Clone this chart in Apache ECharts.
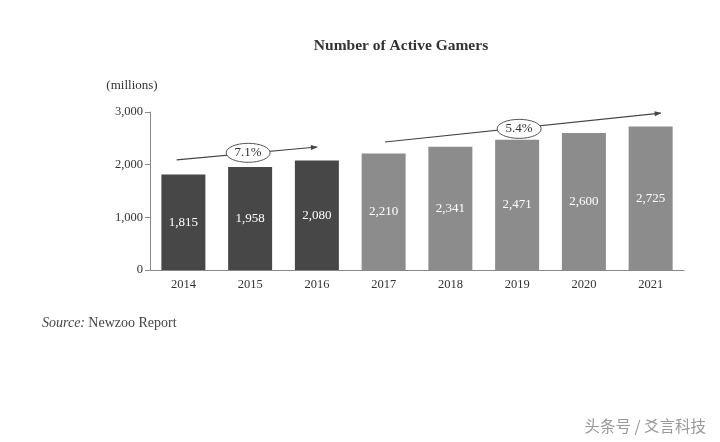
<!DOCTYPE html>
<html><head><meta charset="utf-8">
<script src="https://cdn.jsdelivr.net/npm/echarts@6/dist/echarts.min.js"></script>
<style>html,body{margin:0;padding:0;background:#fff}#c{width:720px;height:442px}</style>
</head><body><div id="c"></div>
<script>
var years = ['2014','2015','2016','2017','2018','2019','2020','2021'];
var gamers = [1815, 1958, 2080, 2210, 2341, 2471, 2600, 2725];
var historic = [true, true, true, false, false, false, false, false];
var yTicks = [0, 1000, 2000, 3000];
// growth annotations: [index, value] in data space
var cagrLabels = ['7.1%', '5.4%'];
var cagrStart = [[-0.1, 2090], [3.02, 2430]];
var cagrEnd = [[2.0, 2335], [7.15, 2980]];
var cagrMid = [[0.97, 2225], [5.03, 2680]];

var serif = '"Liberation Serif","DejaVu Serif",serif';
var chart = echarts.init(document.getElementById('c'));
chart.setOption({
  animation: false,
  backgroundColor: '#fff',
  title: {text: 'Number of Active Gamers', left: 396, top: 33, textAlign: 'center',
    textStyle: {fontFamily: serif, fontSize: 15.5, fontWeight: 'bold', color: '#333'}},
  grid: {left: 150, right: 36, top: 112, bottom: 172},
  xAxis: {type: 'category', data: years,
    axisLine: {lineStyle: {color: '#888'}}, axisTick: {show: false},
    axisLabel: {fontFamily: serif, fontSize: 12.5, color: '#333', margin: 8}},
  yAxis: {type: 'value', min: 0, max: 3000, interval: 1000,
    name: '(millions)', nameLocation: 'end', nameGap: 20,
    nameTextStyle: {fontFamily: serif, fontSize: 13, color: '#333', align: 'center', padding: [0, 36, 0, 0]},
    axisLine: {show: true, lineStyle: {color: '#888'}},
    axisTick: {show: true, length: 5, lineStyle: {color: '#888'}},
    splitLine: {show: false},
    axisLabel: {fontFamily: serif, fontSize: 12.5, color: '#333', margin: 7,
      formatter: function (v) { return v.toLocaleString('en-US'); }}},
  series: [{type: 'bar', barWidth: 44,
    data: gamers.map(function (v, i) {
      return {value: v, itemStyle: {color: historic[i] ? '#474747' : '#8c8c8c'}};
    }),
    label: {show: true, position: 'inside', color: '#fff', fontFamily: serif, fontSize: 13,
      formatter: function (p) { return p.value.toLocaleString('en-US'); }}
  }]
});

function px(idx, val) {
  var a = chart.convertToPixel({xAxisIndex: 0}, 0);
  var b = chart.convertToPixel({xAxisIndex: 0}, 1);
  var x = a + (b - a) * idx;
  var y = chart.convertToPixel({yAxisIndex: 0}, val);
  return [x, y];
}
var g = [];
for (var i = 0; i < cagrLabels.length; i++) {
  var s = px(cagrStart[i][0], cagrStart[i][1]);
  var e = px(cagrEnd[i][0], cagrEnd[i][1]);
  var m = px(cagrMid[i][0], cagrMid[i][1]);
  var ang = Math.atan2(e[1] - s[1], e[0] - s[0]);
  var L = 6, W = 2.5;
  g.push({type: 'line', shape: {x1: s[0], y1: s[1], x2: e[0], y2: e[1]}, style: {stroke: '#444', lineWidth: 1.2}, z: 10});
  g.push({type: 'polygon', shape: {points: [
    [e[0] + Math.cos(ang) * 1, e[1] + Math.sin(ang) * 1],
    [e[0] - Math.cos(ang) * L - Math.sin(ang) * W, e[1] - Math.sin(ang) * L + Math.cos(ang) * W],
    [e[0] - Math.cos(ang) * L + Math.sin(ang) * W, e[1] - Math.sin(ang) * L - Math.cos(ang) * W]
  ]}, style: {fill: '#444'}, z: 11});
  g.push({type: 'ellipse', shape: {cx: m[0], cy: m[1], rx: 22, ry: 9.5},
    style: {fill: '#fff', stroke: '#555', lineWidth: 1}, z: 12});
  g.push({type: 'text', x: m[0], y: m[1], style: {text: cagrLabels[i], fontFamily: serif, fontSize: 13,
    fill: '#333', align: 'center', verticalAlign: 'middle'}, z: 13});
}
g.push({type: 'text', left: 42, top: 316, style: {rich: {
  i: {fontFamily: serif, fontStyle: 'italic', fontSize: 14, fill: '#444'},
  n: {fontFamily: serif, fontSize: 14, fill: '#444'}},
  text: '{i|Source:} {n|Newzoo Report}'}});
g.push({type: 'text', right: 14, top: 418, style: {text: '头条号 / 爻言科技',
  fontFamily: '"Noto Sans CJK SC",sans-serif', fontSize: 15.5, fill: '#999'}});
chart.setOption({graphic: g});
</script></body></html>
